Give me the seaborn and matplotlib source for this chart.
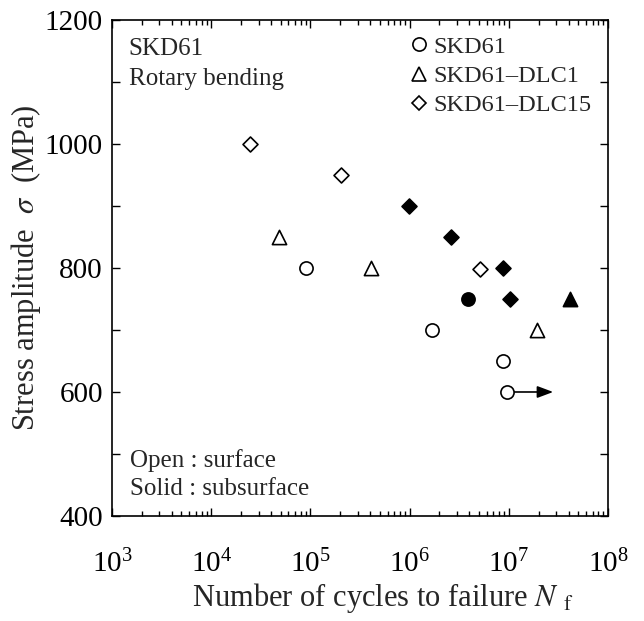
import matplotlib
matplotlib.use("Agg")
import matplotlib.pyplot as plt
import seaborn as sns
import pandas as pd
import numpy as np
from matplotlib.lines import Line2D
from matplotlib.ticker import LogLocator, MultipleLocator, FuncFormatter

# ---- data ----
skd61_open_N = [9.0e4, 1.67e6, 8.8e6, 9.7e6]
skd61_open_S = [800, 700, 650, 600]
skd61_solid_N = [3.85e6]
skd61_solid_S = [750]
dlc1_open_N = [4.86e4, 4.05e5, 1.94e7]
dlc1_open_S = [850, 800, 700]
dlc1_solid_N = [4.14e7]
dlc1_solid_S = [750]
dlc15_open_N = [2.46e4, 2.03e5, 5.16e6]
dlc15_open_S = [1000, 950, 798]
dlc15_solid_N = [9.86e5, 2.6e6, 8.8e6, 1.04e7]
dlc15_solid_S = [900, 850, 800, 750]
runout_N = [9.7e6]
runout_S = [600]
runout_end_N = [2.8e7]

materials = ["SKD61", "SKD61\u2013DLC1", "SKD61\u2013DLC15"]

rows = []
def add(N, S, mat, mode):
    for n, s in zip(N, S):
        rows.append({"N": n, "S": s, "material": mat, "mode": mode})
add(skd61_open_N, skd61_open_S, materials[0], "surface")
add(skd61_solid_N, skd61_solid_S, materials[0], "subsurface")
add(dlc1_open_N, dlc1_open_S, materials[1], "surface")
add(dlc1_solid_N, dlc1_solid_S, materials[1], "subsurface")
add(dlc15_open_N, dlc15_open_S, materials[2], "surface")
add(dlc15_solid_N, dlc15_solid_S, materials[2], "subsurface")
df = pd.DataFrame(rows)

sns.set_theme(style="ticks")
plt.rcParams["font.family"] = ["Liberation Serif", "DejaVu Serif"]
plt.rcParams["mathtext.fontset"] = "stix"

fig = plt.figure(figsize=(6.44, 6.21), dpi=100)
ax = fig.add_axes([0.1739, 0.1691, 0.7702, 0.7987])

marker_map = {materials[0]: "o", materials[1]: "^", materials[2]: "D"}
size_map = {materials[0]: 90, materials[1]: 105, materials[2]: 58}

for (mat, mode), g in df.groupby(["material", "mode"]):
    face = "white" if mode == "surface" else "black"
    sns.scatterplot(data=g, x="N", y="S", marker=marker_map[mat],
                    s=size_map[mat], facecolor=face, edgecolor="black",
                    linewidth=1.2, ax=ax, zorder=3, legend=False)

for n0, s0, n1 in zip(runout_N, runout_S, runout_end_N):
    ax.annotate("", xy=(n1, s0), xytext=(n0 * 1.12, s0),
                arrowprops=dict(arrowstyle="-|>,head_length=0.8,head_width=0.3",
                                color="black", lw=1.2, shrinkA=0, shrinkB=0),
                zorder=2)

ax.set_xscale("log")
ax.set_xlim(1e3, 1e8)
ax.set_ylim(400, 1200)
ax.yaxis.set_major_locator(MultipleLocator(200))
ax.yaxis.set_minor_locator(MultipleLocator(100))
ax.xaxis.set_major_locator(LogLocator(base=10, numticks=10))
ax.xaxis.set_minor_locator(LogLocator(base=10, subs=np.arange(2, 10), numticks=20))
ax.xaxis.set_major_formatter(FuncFormatter(
    lambda v, p: r"$\mathregular{10^{%d}}$" % int(round(np.log10(v)))))

ax.tick_params(which="both", direction="in", top=True, right=True,
               labelsize=21, colors="black", width=1.0)
ax.tick_params(axis="x", which="major", length=6, pad=24)
ax.tick_params(axis="x", which="minor", length=3.5)
ax.tick_params(axis="y", which="both", length=6, pad=6.5)
for sp in ax.spines.values():
    sp.set_linewidth(1.2)
    sp.set_color("black")

ax.set_xlabel(r"Number of cycles to failure $N$ $_{\rm f}$", fontsize=22,
              labelpad=2, x=0.546)
ax.set_ylabel(r"Stress amplitude  $\sigma$  (MPa)", fontsize=22,
              labelpad=1.5)

ax.text(0.034, 0.929, "SKD61", transform=ax.transAxes,
        fontsize=18, va="baseline", ha="left")
ax.text(0.034, 0.869, "Rotary bending", transform=ax.transAxes,
        fontsize=18, va="baseline", ha="left")
ax.text(0.036, 0.099, "Open : surface", transform=ax.transAxes,
        fontsize=18, va="baseline", ha="left")
ax.text(0.036, 0.042, "Solid : subsurface", transform=ax.transAxes,
        fontsize=18, va="baseline", ha="left")

handles = [Line2D([0], [0], marker=marker_map[m], linestyle="none",
                  markerfacecolor="white", markeredgecolor="black",
                  markeredgewidth=1.2, markersize=(9.5 if m != materials[2] else 7.5))
           for m in materials]
leg = ax.legend(handles, materials, loc="upper left", frameon=False,
                fontsize=17.5, handletextpad=0.1, handlelength=1.0,
                labelspacing=0.3, borderpad=0.0, borderaxespad=0.0,
                bbox_to_anchor=(0.595, 0.968))

fig.savefig("out.png", dpi=100)
